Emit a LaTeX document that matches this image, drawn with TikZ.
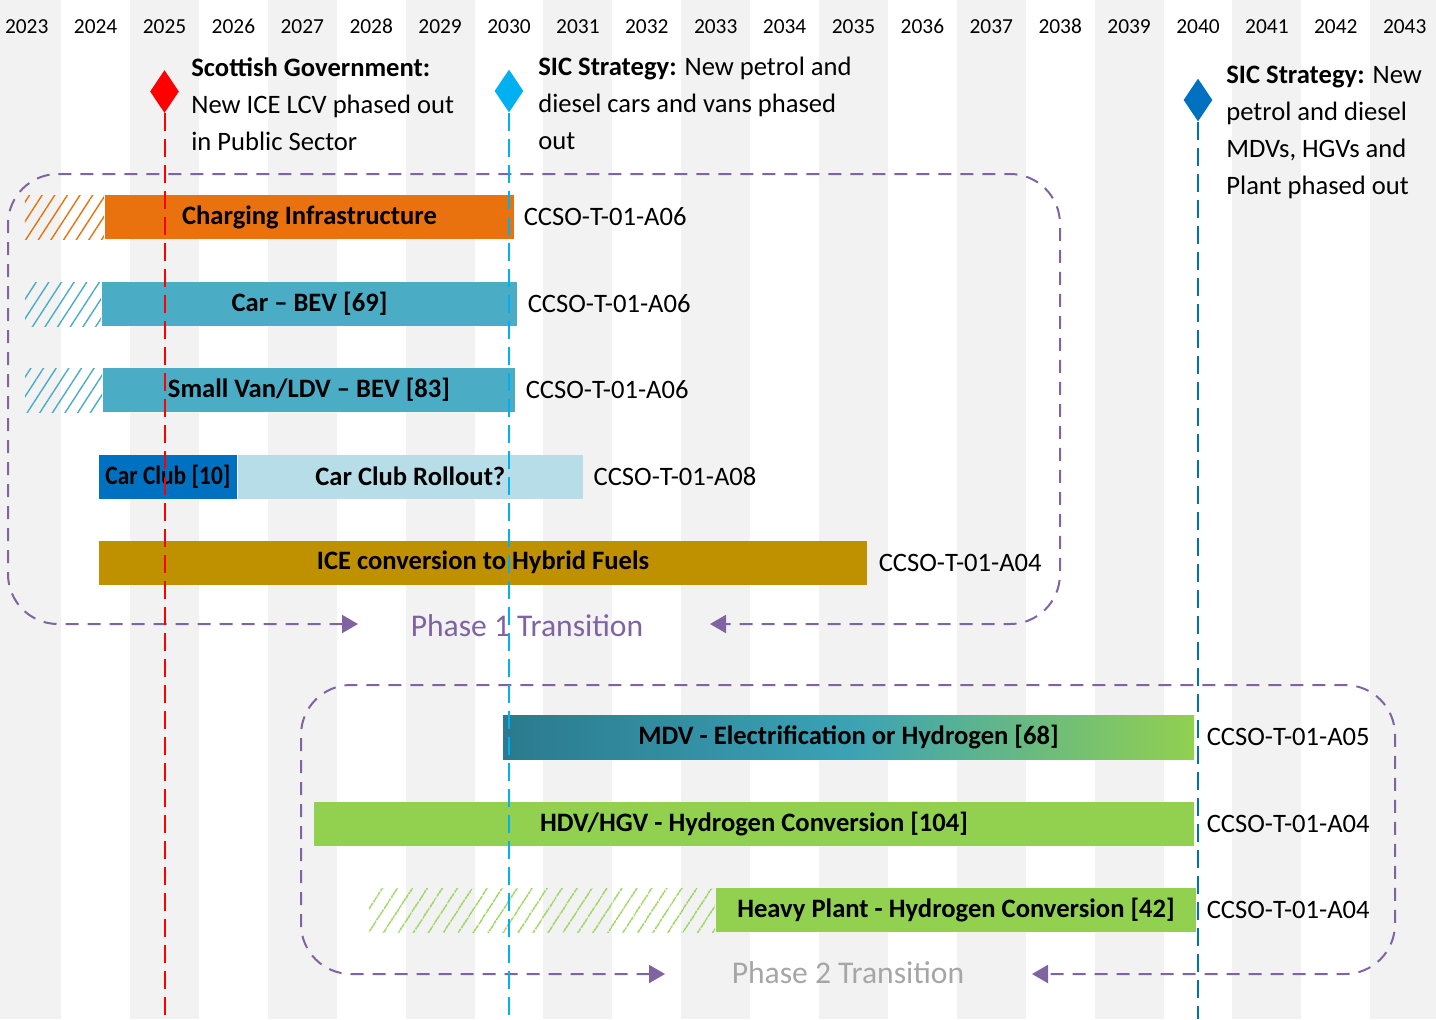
\documentclass[tikz,border=0pt]{standalone}
\usepackage{fontspec}
\setmainfont{Carlito}
\usetikzlibrary{positioning, shapes.geometric, patterns.meta, arrows.meta}

\definecolor{stripe}{HTML}{F2F2F2}
\definecolor{chgorange}{HTML}{E9720E}
\definecolor{bevteal}{HTML}{4BACC6}
\definecolor{clubblue}{HTML}{0070C0}
\definecolor{clublight}{HTML}{B7DEE8}
\definecolor{icegold}{HTML}{BF9000}
\definecolor{hgreen}{HTML}{92D050}
\definecolor{mdvdark}{HTML}{2B7A8E}
\definecolor{mdvmid}{HTML}{3BA2B6}
\definecolor{phasepurple}{HTML}{8064A2}
\definecolor{phasegray}{HTML}{A6A6A6}
\definecolor{sicblue}{HTML}{00B0F0}
\definecolor{sicdark}{HTML}{0070C0}

\tikzset{
  barbox/.style={minimum height=22pt, inner sep=0pt, font=\fontsize{13.3}{16}\selectfont\bfseries},
  hatchbox/.style={minimum height=22pt, inner sep=0pt, pattern={Lines[angle=57,distance=#1,line width=0.7pt]}},
  hatchbox/.default=5.3pt,
  reflbl/.style={inner sep=0pt, font=\fontsize{13.3}{16}\selectfont},
  milestone/.style={diamond, inner sep=0pt, minimum width=14.5pt, minimum height=21.5pt},
  mtext/.style={anchor=north west, align=left, inner sep=0pt, font=\fontsize{13.3}{18.5}\selectfont},
  yearlbl/.style={font=\fontsize{10.7}{12}\selectfont},
  phasebox/.style={dash pattern=on 6.5pt off 4.5pt, line width=1pt, rounded corners=25pt, >={Triangle[length=8pt,width=9pt]}, <->},
  phaselbl/.style={font=\fontsize{15.8}{18}\selectfont},
  deadline/.style={line width=1pt, dash pattern=on 9pt off 4pt},
}

\begin{document}
\begin{tikzpicture}[x=0.5pt, y=-0.5pt]
  \useasboundingbox (0,0) rectangle (1436,1019);

  % year columns
  \begin{scope}
    \clip (0,0) rectangle (1436,1019);
    \foreach \k in {0,2,...,20}
      \fill[stripe] ({26.7+68.9*\k-34.45},0) rectangle ++(68.9,1019);
  \end{scope}
  \foreach \k in {0,...,20} {
    \pgfmathtruncatemacro{\yr}{2023+\k}
    \node[yearlbl] (y\k) at ({26.7+68.9*\k},26.5) {\yr};
  }

  % phase boxes
  \draw[phasebox, phasepurple] (358,624) -| (8,174) -| (1060,624) -- (710,624);
  \node[phaselbl, text=phasepurple] (ph1) at (527,626) {Phase 1 Transition};
  \draw[phasebox, phasepurple] (665,974) -| (301,685) -| (1395,974) -- (1032,974);
  \node[phaselbl, text=phasegray] (ph2) at (848,973) {Phase 2 Transition};

  % phase 1 bars
  \node[barbox, fill=chgorange, minimum width=204.5pt] (chg) at (309.5,217) {Charging Infrastructure};
  \node[hatchbox, pattern color=chgorange, minimum width=39.5pt, left=0pt of chg] (chgpre) {};
  \node[reflbl, right=4.5pt of chg] (chgref) {CCSO-T-01-A06};

  \node[barbox, fill=bevteal, minimum width=207.5pt] (carbev) at (309.5,304) {Car -- BEV [69]};
  \node[hatchbox, pattern color=bevteal, minimum width=38pt, left=0pt of carbev] (carbevpre) {};
  \node[reflbl, right=5pt of carbev] (carbevref) {CCSO-T-01-A06};

  \node[barbox, fill=bevteal, minimum width=206pt] (van) at (309,390) {Small Van/LDV -- BEV [83]};
  \node[hatchbox, pattern color=bevteal, minimum width=38.5pt, left=0pt of van] (vanpre) {};
  \node[reflbl, right=5pt of van] (vanref) {CCSO-T-01-A06};

  \node[barbox, fill=clubblue, minimum width=69pt] (club) at (168,476.5) {\scalebox{0.88}[1]{Car Club [10]}};
  \node[barbox, fill=clublight, minimum width=172.5pt, right=0pt of club] (clubroll) {Car Club Rollout?};
  \node[reflbl, right=5pt of clubroll] (clubref) {CCSO-T-01-A08};

  \node[barbox, fill=icegold, minimum width=384pt] (ice) at (483,562.5) {ICE conversion to Hybrid Fuels};
  \node[reflbl, right=5.5pt of ice] (iceref) {CCSO-T-01-A04};

  % phase 2 bars
  \node[barbox, left color=mdvdark, right color=hgreen, middle color=mdvmid, minimum width=345.5pt] (mdv) at (848.5,737) {MDV - Electrification or Hydrogen [68]};
  \node[reflbl, right=6pt of mdv] (mdvref) {CCSO-T-01-A05};

  \node[barbox, fill=hgreen, minimum width=440pt] (hgv) at (754,824) {HDV/HGV - Hydrogen Conversion [104]};
  \node[reflbl, right=6pt of hgv] (hgvref) {CCSO-T-01-A04};

  \node[barbox, fill=hgreen, minimum width=240pt] (plant) at (956,910) {Heavy Plant - Hydrogen Conversion [42]};
  \node[hatchbox=6.4pt, pattern color=hgreen, minimum width=173pt, left=0pt of plant] (plantpre) {};
  \node[reflbl, right=5pt of plant] (plantref) {CCSO-T-01-A04};

  % milestones
  \node[milestone, fill=red] (sg) at (164.5,91.5) {};
  \node[mtext] (sgtxt) at (191,57) {{\bfseries Scottish Government:}\\New ICE LCV phased out\\in Public Sector};
  \node[milestone, fill=sicblue] (sic30) at (509,91) {};
  \node[mtext] (sic30txt) at (538,57) {{\bfseries SIC Strategy:} New petrol and\\diesel cars and vans phased\\out};
  \node[milestone, fill=sicdark] (sic40) at (1198,100) {};
  \node[mtext] (sic40txt) at (1226,66) {{\bfseries SIC Strategy:} New\\petrol and diesel\\MDVs, HGVs and\\Plant phased out};

  \coordinate (sgend) at (164.5,1019);
  \coordinate (sic30end) at (509,1019);
  \coordinate (sic40end) at (1198,1019);
  \draw[deadline, red] (sg.south) -- (sgend);
  \draw[deadline, sicblue] (sic30.south) -- (sic30end);
  \draw[deadline, sicdark] (sic40.south) -- (sic40end);
\end{tikzpicture}
\end{document}
